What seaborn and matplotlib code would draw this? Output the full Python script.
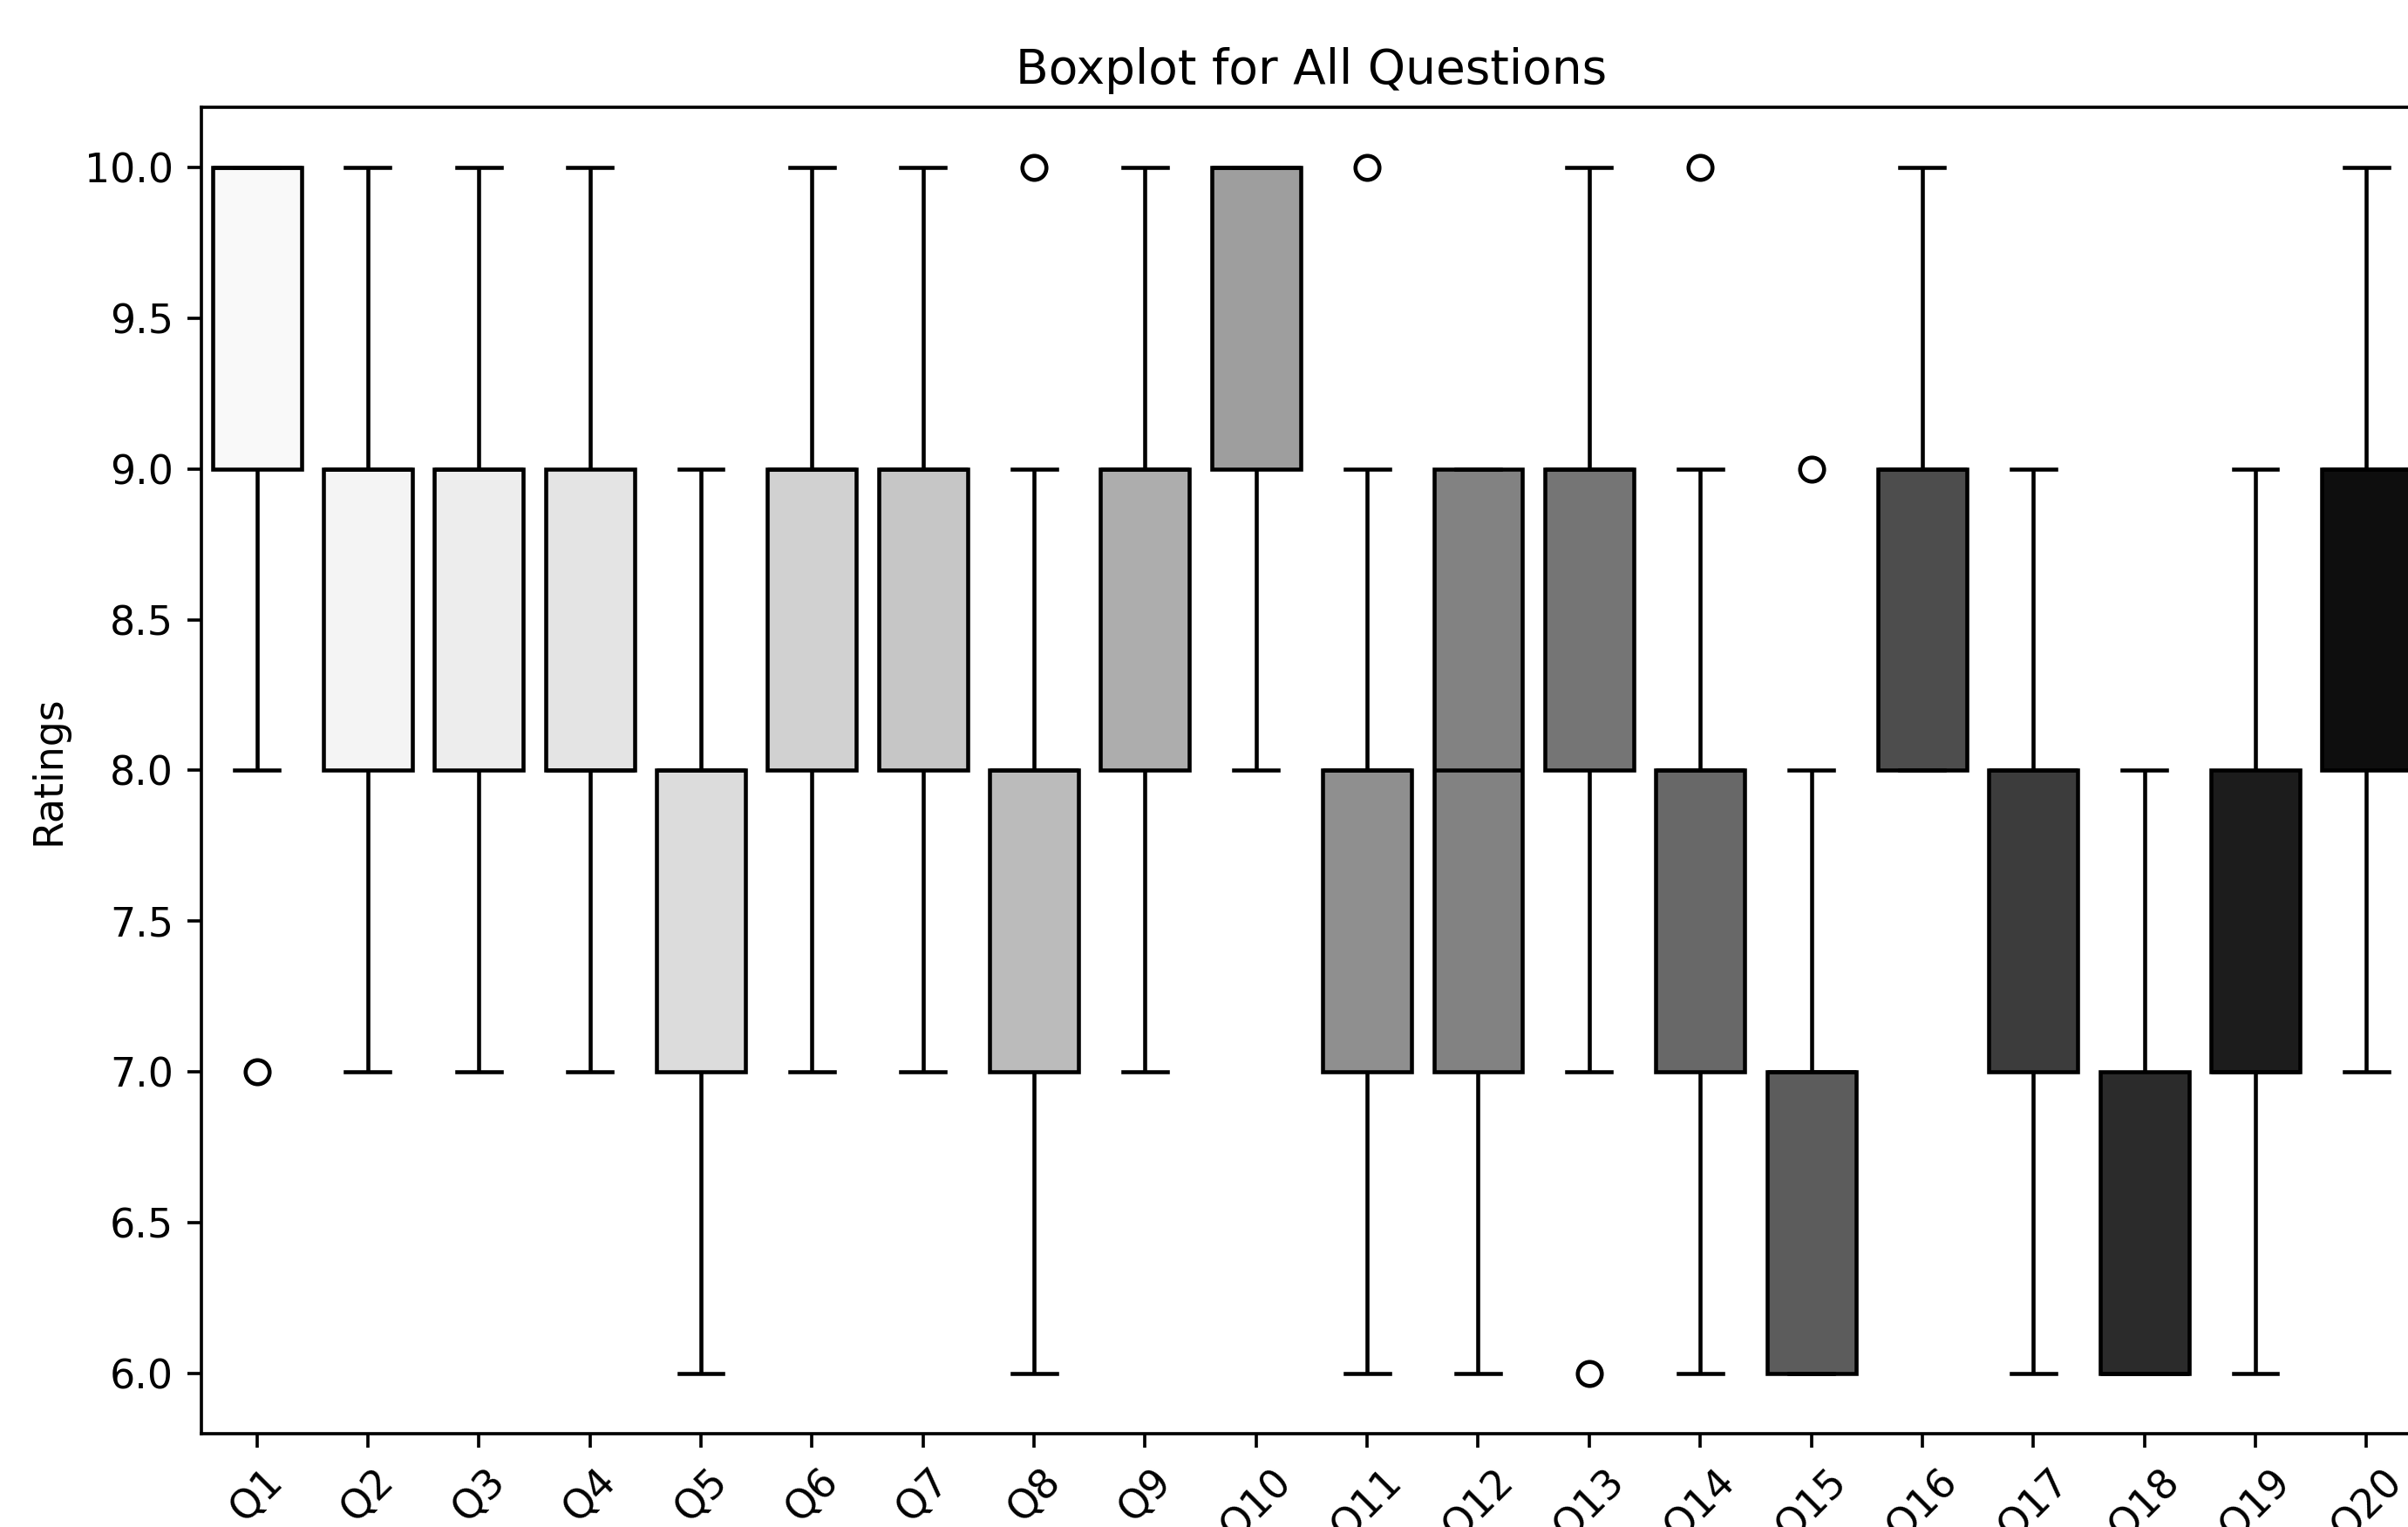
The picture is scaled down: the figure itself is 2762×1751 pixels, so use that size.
import pandas as pd
import numpy as np
import matplotlib.pyplot as plt
import seaborn as sns

# Respostas (9 respondentes) por questão
q1 = [7, 8, 9, 9, 10, 10, 10, 10, 10]
q2 = [7, 8, 8, 8, 9, 9, 9, 10, 10]
q3 = [7, 8, 8, 9, 9, 9, 9, 10, 10]
q4 = [7, 8, 8, 8, 8, 9, 9, 10, 10]
q5 = [6, 7, 7, 7, 8, 8, 8, 9, 9]
q6 = [7, 7, 8, 9, 9, 9, 9, 10, 10]
q7 = [7, 8, 8, 8, 9, 9, 9, 9, 10]
q8 = [6, 7, 7, 8, 8, 8, 8, 9, 10]
q9 = [7, 8, 8, 9, 9, 9, 9, 10, 10]
q10 = [8, 9, 9, 9, 10, 10, 10, 10, 10]
q11 = [6, 7, 7, 7, 8, 8, 8, 9, 10]
q12 = [6, 7, 7, 8, 8, 8, 9, 9, 9]
q13 = [6, 7, 8, 8, 9, 9, 9, 10, 10]
q14 = [6, 7, 7, 8, 8, 8, 8, 9, 10]
q15 = [6, 6, 6, 6, 7, 7, 7, 8, 9]
q16 = [8, 8, 8, 9, 9, 9, 9, 10, 10]
q17 = [6, 7, 7, 8, 8, 8, 8, 9, 9]
q18 = [6, 6, 6, 6, 6, 7, 7, 8, 8]
q19 = [6, 7, 7, 7, 7, 8, 8, 9, 9]
q20 = [7, 8, 8, 8, 9, 9, 9, 10, 10]

questions = [f"Q{i}" for i in range(1, 21)]
df = pd.DataFrame(dict(zip(questions, [q1, q2, q3, q4, q5, q6, q7, q8, q9, q10,
                                       q11, q12, q13, q14, q15, q16, q17, q18, q19, q20])))
df_long = df.melt(var_name="Question", value_name="Rating")

# tudo ~10% maior que o padrão
s = 1.1
plt.rcParams.update({
    "font.size": 10 * s,
    "axes.linewidth": 0.8 * s,
    "xtick.major.width": 0.8 * s,
    "ytick.major.width": 0.8 * s,
    "xtick.major.size": 3.5 * s,
    "ytick.major.size": 3.5 * s,
    "xtick.major.pad": 3.5 * s,
    "ytick.major.pad": 3.5 * s,
    "axes.titlepad": 6.0 * s,
    "axes.labelpad": 4.0 * s,
})

fig = plt.figure(figsize=(2762 / 300, 1751 / 300), dpi=300)
# eixo passa um pouco da borda direita/inferior como no original
ax = fig.add_axes([0.0836, 0.0613, 0.9222, 0.8683])

sns.boxplot(data=df_long, x="Question", y="Rating", hue="Question", palette="Greys",
            legend=False, linecolor="black", linewidth=1.0 * s, width=0.8,
            flierprops=dict(marker="o", markerfacecolor="white", markeredgecolor="black",
                            markersize=6 * s, markeredgewidth=1.0 * s), ax=ax)

ax.set_title("Boxplot for All Questions")
ax.set_xlabel("Questions")
ax.set_ylabel("Ratings")
plt.xticks(rotation=45)

fig.savefig("out.png", dpi=300)
